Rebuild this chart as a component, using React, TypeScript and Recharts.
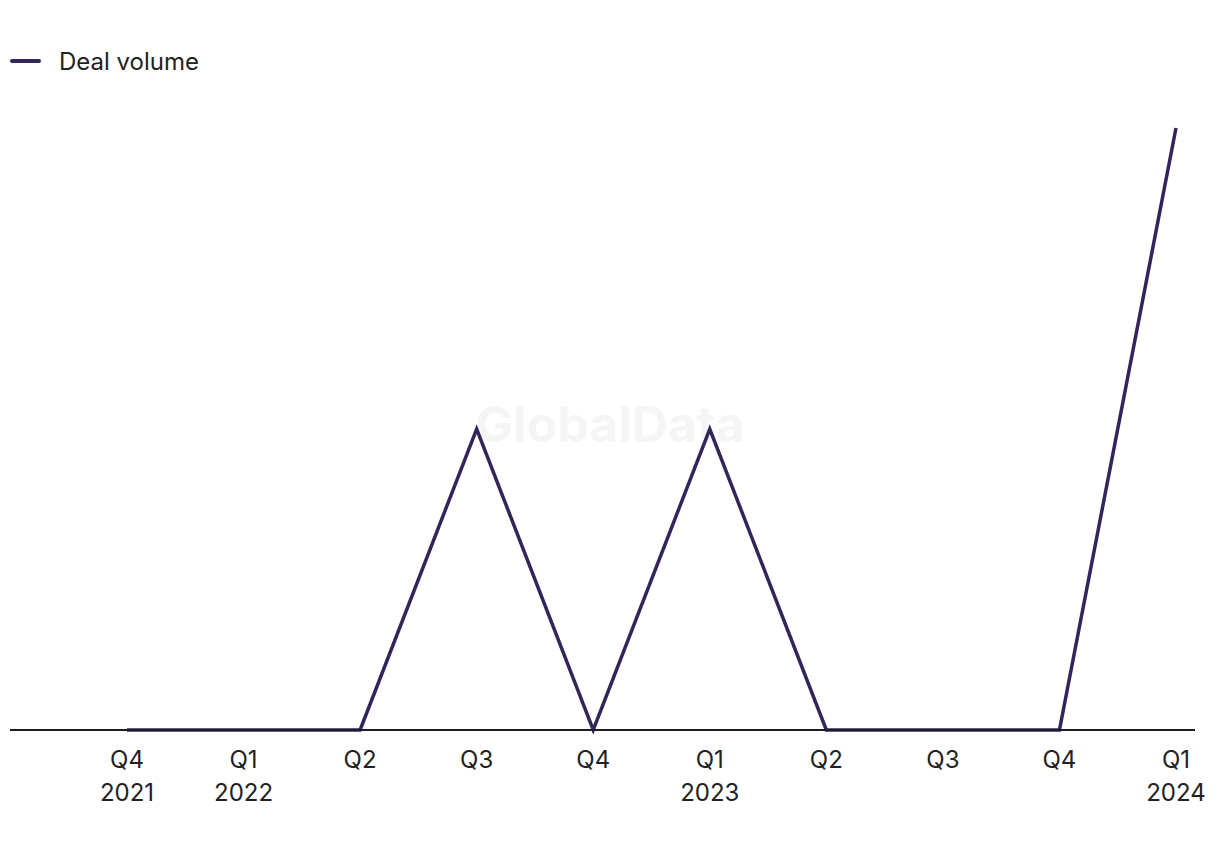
import { LineChart, Line, XAxis, YAxis, Legend } from "recharts";

const quarters = ["Q4", "Q1", "Q2", "Q3", "Q4", "Q1", "Q2", "Q3", "Q4", "Q1"];
const years = ["2021", "2022", "", "", "", "2023", "", "", "", "2024"];
const dealVolume = [0, 0, 0, 1, 0, 1, 0, 0, 0, 2];

const data = quarters.map((q, i) => ({ key: `${q}-${i}`, q, year: years[i], volume: dealVolume[i] }));

const FONT = "Inter, 'Noto Sans', sans-serif";
const LINE_COLOR = "#33245a";

function QuarterTick({ x, y, payload }: any) {
  const row = data[payload.index];
  return (
    <text x={x} y={y} textAnchor="middle" fill="#222" fontSize={24} fontFamily={FONT}>
      <tspan x={x} dy={30}>{row.q}</tspan>
      {row.year && <tspan x={x} dy={33}>{row.year}</tspan>}
    </text>
  );
}

function LegendContent() {
  return (
    <div style={{ display: "flex", alignItems: "center", height: 28, fontFamily: FONT, fontSize: 24, color: "#222" }}>
      <span style={{ display: "inline-block", width: 31, height: 4, borderRadius: 2, background: LINE_COLOR, marginRight: 18 }} />
      Deal volume
    </div>
  );
}

export default function App() {
  return (
    <div style={{ position: "absolute", left: 0, top: 0, width: 1220, height: 850, background: "#fff" }}>
      <div
        style={{
          position: "absolute",
          left: 0,
          width: 1220,
          top: 394,
          textAlign: "center",
          fontFamily: FONT,
          fontWeight: 700,
          fontSize: 50,
          color: "#f5f5f5",
        }}
      >
        GlobalData
      </div>
      <div style={{ position: "absolute", left: 0, top: 0 }}>
        <LineChart width={1220} height={850} data={data} margin={{ top: 100, right: 25, bottom: 60, left: 10 }}>
          <Legend
            verticalAlign="top"
            align="left"
            height={28}
            content={<LegendContent />}
            wrapperStyle={{ top: 47, left: 10 }}
          />
          <XAxis
            dataKey="key"
            scale="point"
            padding={{ left: 117, right: 19 }}
            height={60}
            axisLine={{ stroke: "#1c1a2b", strokeWidth: 2 }}
            tickLine={false}
            interval={0}
            tick={<QuarterTick />}
          />
          <YAxis hide domain={[0, 2]} />
          <Line
            type="linear"
            dataKey="volume"
            stroke={LINE_COLOR}
            strokeWidth={3.5}
            dot={false}
            activeDot={false}
            isAnimationActive={false}
          />
        </LineChart>
      </div>
    </div>
  );
}
